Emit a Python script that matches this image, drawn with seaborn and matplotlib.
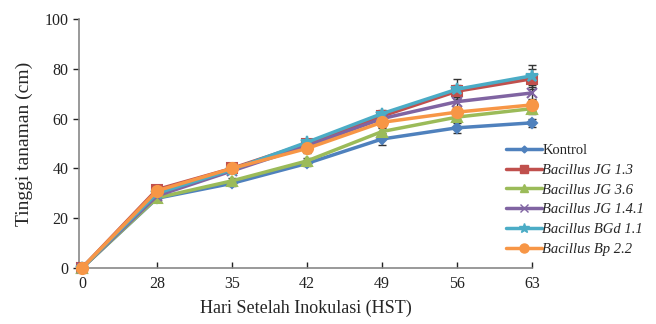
import numpy as np
import pandas as pd
import seaborn as sns
import matplotlib.pyplot as plt

days = ["0", "28", "35", "42", "49", "56", "63"]
series = ["Kontrol", "Bacillus JG 1.3", "Bacillus JG 3.6",
          "Bacillus JG 1.4.1", "Bacillus BGd 1.1", "Bacillus Bp 2.2"]

kontrol = [0, 28.0, 34.0, 42.0, 51.8, 56.3, 58.3]
jg13 = [0, 31.5, 40.0, 50.0, 61.0, 71.0, 76.0]
jg36 = [0, 28.2, 35.0, 43.0, 54.8, 60.6, 64.0]
jg141 = [0, 29.0, 39.0, 49.0, 60.0, 66.8, 70.3]
bgd11 = [0, 30.0, 39.5, 50.5, 62.0, 71.8, 77.2]
bp22 = [0, 31.0, 40.0, 48.0, 58.5, 62.6, 65.5]

kontrol_err = [0, 0.8, 1.0, 1.2, 2.5, 2.0, 1.5]
jg13_err = [0, 1.0, 1.2, 1.5, 1.8, 2.5, 4.0]
jg36_err = [0, 0.8, 1.0, 1.2, 1.5, 2.0, 2.0]
jg141_err = [0, 0.8, 1.0, 1.5, 1.5, 2.0, 3.0]
bgd11_err = [0, 1.0, 1.0, 1.5, 1.5, 4.0, 4.5]
bp22_err = [0, 1.0, 1.2, 2.0, 2.0, 2.0, 2.5]

values = [kontrol, jg13, jg36, jg141, bgd11, bp22]
errors = [kontrol_err, jg13_err, jg36_err, jg141_err, bgd11_err, bp22_err]

colors = ["#4F81BD", "#C0504D", "#9BBB59", "#8064A2", "#4BACC6", "#F79646"]
markers = ["D", "s", "^", "x", "*", "o"]
msizes = [5, 7, 7, 7, 9, 8]

rows = []
for name, vals in zip(series, values):
    for i, v in enumerate(vals):
        rows.append({"pos": i, "tinggi": v, "perlakuan": name})
df = pd.DataFrame(rows)

sns.set_style("white")
plt.rcParams["font.family"] = ["Liberation Serif", "DejaVu Serif"]

fig = plt.figure(figsize=(6.56, 3.24), dpi=100)
ax = fig.add_axes([79 / 656, 1 - 268 / 324, (532 - 79) / 656, (268 - 19) / 324])

sns.lineplot(data=df, x="pos", y="tinggi", hue="perlakuan",
             hue_order=series, palette=colors, linewidth=2.5,
             ax=ax, legend=False, clip_on=False, zorder=3)

for ln, c, m, ms in zip(ax.lines, colors, markers, msizes):
    ln.set_marker(m)
    ln.set_markersize(ms)
    ln.set_markeredgewidth(1.5)
    ln.set_markeredgecolor(c)
    ln.set_markerfacecolor(c)

for vals, errs in zip(values, errors):
    ax.errorbar(range(len(days)), vals, yerr=errs, fmt="none", ecolor="#333333",
                elinewidth=1, capsize=3, capthick=1, zorder=2, clip_on=False)

ax.set_xlim(-0.04, 6)
ax.set_ylim(0, 100)
ax.set_xticks(range(len(days)))
ax.set_xticklabels(days)
ax.set_yticks(np.arange(0, 101, 20))
ax.tick_params(axis="both", labelsize=11.5, colors="#222222", length=4,
               width=1, direction="out", bottom=True, left=True)
ax.tick_params(axis="x", direction="in", pad=6)
for s in ["top", "right"]:
    ax.spines[s].set_visible(False)
for s in ["left", "bottom"]:
    ax.spines[s].set_color("#888888")
    ax.spines[s].set_linewidth(1.2)

ax.set_xlabel("Hari Setelah Inokulasi (HST)", fontsize=13, labelpad=5)
ax.set_ylabel("Tinggi tanaman (cm)", fontsize=14, labelpad=8)

handles = [plt.Line2D([], [], color=c, marker=m, markersize=ms - 1.5,
                      linewidth=2.5, markeredgecolor=c)
           for c, m, ms in zip(colors, markers, msizes)]
leg = fig.legend(handles, series, loc="upper left",
                 bbox_to_anchor=(500 / 656, 1 - 138 / 324), frameon=False,
                 fontsize=10.5, handlelength=2.5, handletextpad=0.0,
                 labelspacing=0.45, borderaxespad=0)
for t in leg.get_texts()[1:]:
    t.set_fontstyle("italic")

fig.savefig("out.png", dpi=100)
